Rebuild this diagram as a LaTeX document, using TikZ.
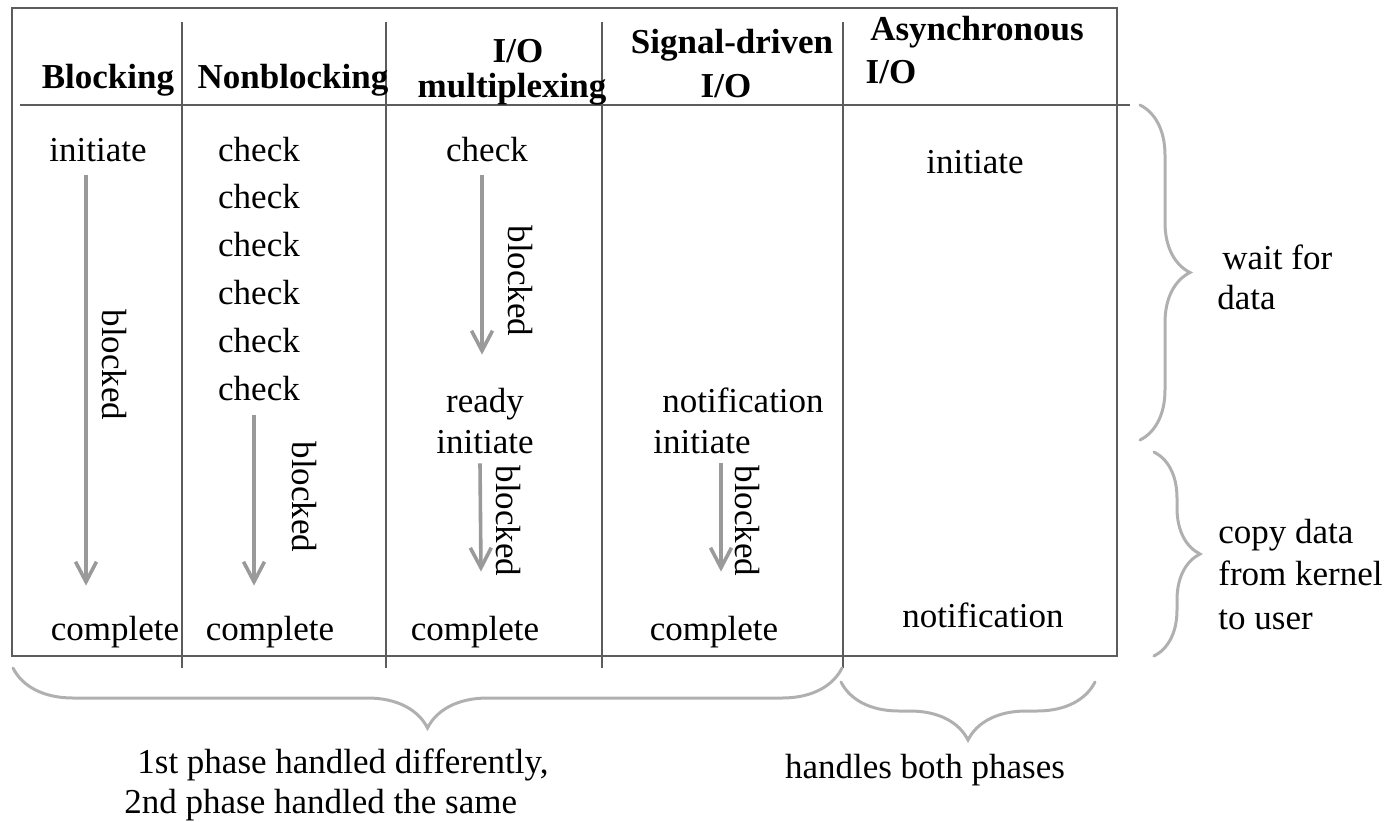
\documentclass[tikz,border=0pt]{standalone}
\usepackage{fontspec}
\setmainfont{Liberation Serif}
\usepackage{tikz}
\usetikzlibrary{arrows.meta, positioning, decorations.pathreplacing}
\definecolor{rulegray}{HTML}{5C5C5C}
\definecolor{arrowgray}{HTML}{9A9A9A}
\definecolor{bracegray}{HTML}{B0B0B0}
\newcommand{\cellfont}{\fontsize{17.5}{20}\selectfont}
\tikzstyle{event} = [inner sep=0pt, text height=12pt, text depth=3.5pt]
\tikzstyle{head} = [event, font=\cellfont\bfseries]
\tikzstyle{waitlabel} = [event, rotate=-90]
\tikzstyle{note} = [inner sep=0pt, align=left, anchor=north west]
\tikzstyle{rule} = [draw=rulegray, line width=1.4pt]
\tikzstyle{wait} = [draw=arrowgray, line width=1.8pt, -{Straight Barb[length=10pt,width=10.5pt]}]
\tikzstyle{phase} = [draw=bracegray, line width=1.5pt, line cap=round, decorate]

\begin{document}
\begin{tikzpicture}[x=0.5pt, y=-0.5pt, node distance=23.9pt, font=\cellfont]
\useasboundingbox (0,0) rectangle (1388,821);

% table frame
\draw [rule] (12,8) rectangle (1117,656);
\draw [rule] (20,105) -- (1130,105);
\draw [rule] (182,22) -- (182,668);
\draw [rule] (386,22) -- (386,668);
\draw [rule] (602,22) -- (602,668);
\draw [rule] (843,22) -- (843,668);

% column headers
\node (hdblock) [head] at (108,79.5) {Blocking};
\node (hdnonblock) [head] at (293,79.5) {Nonblocking};
\node (hdmuxa) [head] at (518,53.5) {I/O};
\node (hdmuxb) [head] at (512,88.5) {multiplexing};
\node (hdsiga) [head] at (732,44.5) {Signal-driven};
\node (hdsigb) [head] at (726,88.5) {I/O};
\node (hdasynca) [head] at (977,31.5) {Asynchronous};
\node (hdasyncb) [head] at (891,74.5) {I/O};

% blocking
\node (blkinit) [event] at (98,152.5) {initiate};
\node (blkdone) [event] at (115,631.5) {complete};
\node (blkwait) [waitlabel] at (110.5,365) {blocked};
\draw [wait] ([xshift=-6pt, yshift=-3.5pt]blkinit.south) -- ([xshift=-14.5pt, yshift=15pt]blkdone.north);

% nonblocking
\node (nbchecka) [event] at (259,152.5) {check};
\node (nbcheckb) [event, below of=nbchecka] {check};
\node (nbcheckc) [event, below of=nbcheckb] {check};
\node (nbcheckd) [event, below of=nbcheckc] {check};
\node (nbchecke) [event, below of=nbcheckd] {check};
\node (nbcheckf) [event, below of=nbchecke] {check};
\node (nbdone) [event] at (270,631.5) {complete};
\node (nbwait) [waitlabel] at (300.5,497) {blocked};
\draw [wait] ([xshift=-2.5pt, yshift=-4pt]nbcheckf.south) -- ([xshift=-8pt, yshift=15pt]nbdone.north);

% I/O multiplexing
\node (muxcheck) [event] at (487,152.5) {check};
\node (muxready) [event] at (485,403.5) {ready};
\node (muxinit) [event, below of=muxready, node distance=20.5pt] {initiate};
\node (muxdone) [event] at (475,631.5) {complete};
\node (muxwaita) [waitlabel] at (516.5,281) {blocked};
\node (muxwaitb) [waitlabel] at (504.5,521) {blocked};
\draw [wait] ([xshift=-2.5pt, yshift=-3.5pt]muxcheck.south) -- ([xshift=-1.5pt, yshift=16.5pt]muxready.north);
\draw [wait] ([xshift=-2.5pt, yshift=-1.5pt]muxinit.south) -- ([xshift=3pt, yshift=22pt]muxdone.north);

% signal-driven I/O
\node (signote) [event] at (743,403.5) {notification};
\node (siginit) [event, below of=signote, node distance=20.5pt, xshift=-20.5pt] {initiate};
\node (sigdone) [event] at (714,631.5) {complete};
\node (sigwait) [waitlabel] at (743.5,521) {blocked};
\draw [wait] ([xshift=9.5pt, yshift=-1.5pt]siginit.south) -- ([xshift=3.5pt, yshift=22pt]sigdone.north);

% asynchronous I/O
\node (asyinit) [event] at (975,164.5) {initiate};
\node (asynote) [event] at (983,618.5) {notification};

% phases on the right
\draw [phase, decoration={brace, amplitude=25pt}] (1140,105) -- (1140,440);
\draw [phase, decoration={brace, amplitude=23pt}] (1154,452) -- (1154,656);
\node (waitdata) [note] at (1217,244) {\hspace{2.5pt}wait for\\data};
\node (copydata) [note] at (1218,519) {copy data\\[1pt]from kernel\\[2pt]to user};

% phases below
\draw [phase, decoration={brace, amplitude=30pt}] (842,668) -- (13,668);
\draw [phase, decoration={brace, amplitude=29pt}] (1095,682) -- (841,682);
\node (diffphase) [note] at (124,748) {\hspace{6.5pt}1st phase handled differently,\\2nd phase handled the same};
\node (bothphase) [event] at (925,769.5) {handles both phases};

\end{tikzpicture}
\end{document}
